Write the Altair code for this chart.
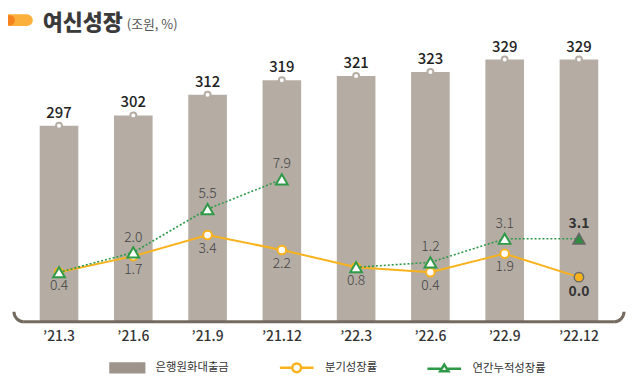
import math
import altair as alt
import pandas as pd

# ---- data ----
periods = ["’21.3", "’21.6", "’21.9", "’21.12", "’22.3", "’22.6", "’22.9", "’22.12"]
years = ["2021", "2021", "2021", "2021", "2022", "2022", "2022", "2022"]
loans = [297, 302, 312, 319, 321, 323, 329, 329]
quarterly = [0.4, 1.7, 3.4, 2.2, 0.8, 0.4, 1.9, 0.0]
cumulative = [0.4, 2.0, 5.5, 7.9, 0.8, 1.2, 3.1, 3.1]
cum_label_shown = [False, True, True, True, False, True, True, True]
legend_names = ["은행원화대출금", "분기성장률", "연간누적성장률"]
title_main = "여신성장"
title_unit = "(조원, %)"
bar_floor = 202.3   # value at the bottom of the plot

FONT = "Noto Sans CJK KR"
BAR = "#b5ada4"
LEGBAR = "#9d948b"
YEL = "#f9b21b"
GRN = "#2e9a47"
BR = "#756a60"

df = pd.DataFrame({
    "period": periods,
    "year": years,
    "loan": loans,
    "q": quarterly,
    "cum": cumulative,
    "idx": list(range(len(periods))),
})
df["q_label"] = [f"{v:.1f}" for v in quarterly]
df["c_label"] = [f"{v:.1f}" if s else "" for v, s in zip(cumulative, cum_label_shown)]

W, H = 616, 293

base = alt.Chart(df)
xscale = alt.Scale(paddingInner=0.48, paddingOuter=0.347)
X = alt.X("period:N", sort=periods, scale=xscale,
          axis=alt.Axis(title=None, labelAngle=0, domain=False, ticks=False, grid=False,
                        labelPadding=8, labelFontSize=14, labelColor="#333",
                        labelFont=FONT, labelFontWeight=500))

YB = alt.Y("loan:Q", scale=alt.Scale(domain=[bar_floor, 342.5], zero=False, nice=False), axis=None)
lscale = alt.Scale(domain=[-3.6, 19.84], zero=False, nice=False)
YQ = alt.Y("q:Q", scale=lscale, axis=None)
YC = alt.Y("cum:Q", scale=lscale, axis=None)

bars = base.mark_bar(color=BAR).encode(x=X, y=YB, y2=alt.datum(bar_floor))
bar_dots = base.mark_point(shape="circle", filled=True, fill="white", stroke=BAR,
                           strokeWidth=2, size=36, opacity=1).encode(x=X, y=YB)
bar_text = base.mark_text(dy=-13, baseline="middle", fontSize=15, fontWeight=500,
                          color="#222", font=FONT).encode(x=X, y=YB, text="loan:Q")
bar_group = alt.layer(bars, bar_dots, bar_text)

y_line = base.mark_line(color=YEL, strokeWidth=2).encode(x=X, y=YQ)
y_pts = base.transform_filter("datum.idx < 7").mark_point(
    shape="circle", filled=True, fill="white", stroke=YEL, strokeWidth=2, size=75, opacity=1
).encode(x=X, y=YQ)
y_last = base.transform_filter("datum.idx == 7").mark_point(
    shape="circle", filled=True, fill=YEL, stroke="#6b6b6b", strokeWidth=1.5, size=90, opacity=1
).encode(x=X, y=YQ)
y_text = base.transform_filter("datum.idx < 7").mark_text(
    dy=14, baseline="middle", fontSize=14, fontWeight=300, color="#444", font=FONT
).encode(x=X, y=YQ, text="q_label:N")
y_text_last = base.transform_filter("datum.idx == 7").mark_text(
    dy=15, baseline="middle", fontSize=14, fontWeight="bold", color="#333", font=FONT
).encode(x=X, y=YQ, text="q_label:N")

g_line = base.mark_line(color=GRN, strokeWidth=1.6, strokeDash=[2, 2]).encode(
    x=X, y=YC, detail="year:N")
g_pts = base.transform_filter("datum.idx < 7").mark_point(
    shape="triangle-up", filled=True, fill="white", stroke=GRN, strokeWidth=2, size=140, opacity=1
).encode(x=X, y=YC)
g_last = base.transform_filter("datum.idx == 7").mark_point(
    shape="triangle-up", filled=True, fill="#2e8b3f", stroke="#666", strokeWidth=1.5, size=150, opacity=1
).encode(x=X, y=YC)
g_text = base.transform_filter("datum.idx < 7").mark_text(
    dy=-15, baseline="middle", fontSize=14, fontWeight=300, color="#444", font=FONT
).encode(x=X, y=YC, text="c_label:N")
g_text_last = base.transform_filter("datum.idx == 7").mark_text(
    dy=-15, baseline="middle", fontSize=14, fontWeight="bold", color="#333", font=FONT
).encode(x=X, y=YC, text="c_label:N")

line_group = alt.layer(y_line, y_pts, y_last, g_line, g_pts, g_last,
                       y_text, y_text_last, g_text, g_text_last)

# ---- decorations (title, bracket axis) ----
one = alt.Chart(alt.Data(values=[{"a": 1}]))
pill = one.mark_rule(color="#fbb03b", strokeWidth=12, strokeCap="round").encode(
    x=alt.value(-4.7), x2=alt.value(13), y=alt.value(-11.5))
pill_dot = one.mark_point(shape="circle", filled=True, color="#f5821f", size=113, opacity=1).encode(
    x=alt.value(-4.4), y=alt.value(-11.5))
t_main = one.mark_text(text=title_main, fontSize=22, fontWeight=900, font=FONT, color="#3a3a3a",
                       align="left", baseline="middle").encode(x=alt.value(29), y=alt.value(-8.5))
t_unit = one.mark_text(text=title_unit, fontSize=13, font=FONT, color="#555",
                       align="left", baseline="middle").encode(x=alt.value(114), y=alt.value(-7))

floor = one.mark_rule(color=BR, strokeWidth=3).encode(
    x=alt.value(10), x2=alt.value(W - 10), y=alt.value(H))
arc_l = one.mark_arc(theta=math.pi, theta2=1.5 * math.pi, radius=11.5, radius2=8.5, color=BR).encode(
    x=alt.value(10), y=alt.value(H - 10))
arc_r = one.mark_arc(theta=0.5 * math.pi, theta2=math.pi, radius=11.5, radius2=8.5, color=BR).encode(
    x=alt.value(W - 10), y=alt.value(H - 10))

# ---- legend (native legend, custom symbol paths) ----
paths = [
    "M-1,-0.26H1V0.26H-1Z",
    "M-1,0H-0.26M0.26,0H1M-0.26,0A0.26,0.26,0,1,0,0.26,0A0.26,0.26,0,1,0,-0.26,0Z",
    "M-1,0H-0.2M0.2,0H1M-0.25,0.15L0,-0.25L0.25,0.15Z",
]
LEG = alt.Legend(title=None, orient="none", legendX=96, legendY=321, direction="horizontal",
                 symbolSize=1156, symbolStrokeWidth=2.5, labelOffset=10, labelFontSize=11.5,
                 labelFont=FONT, labelColor="#333", columnPadding=45, padding=0)
leg = alt.Chart(alt.Data(values=[{"s": n} for n in legend_names])).transform_filter("false").mark_point(
    opacity=1, size=1156, filled=True, strokeWidth=2.5
).encode(
    shape=alt.Shape("s:N", scale=alt.Scale(domain=legend_names, range=paths), legend=LEG),
    fill=alt.Fill("s:N", scale=alt.Scale(domain=legend_names, range=[LEGBAR, "white", "white"]), legend=LEG),
    stroke=alt.Stroke("s:N", scale=alt.Scale(domain=legend_names, range=[LEGBAR, YEL, GRN]), legend=LEG),
)

chart = alt.layer(
    bar_group, floor, arc_l, arc_r, line_group, pill, pill_dot, t_main, t_unit, leg
).resolve_scale(y="independent").properties(
    width=W, height=H,
    autosize=alt.AutoSizeParams(type="none"),
    padding={"left": 6, "top": 22, "right": 3, "bottom": 54},
    background="white",
).configure_view(stroke=None)

chart.save("out.html", embed_options={"renderer": "svg", "actions": False})
